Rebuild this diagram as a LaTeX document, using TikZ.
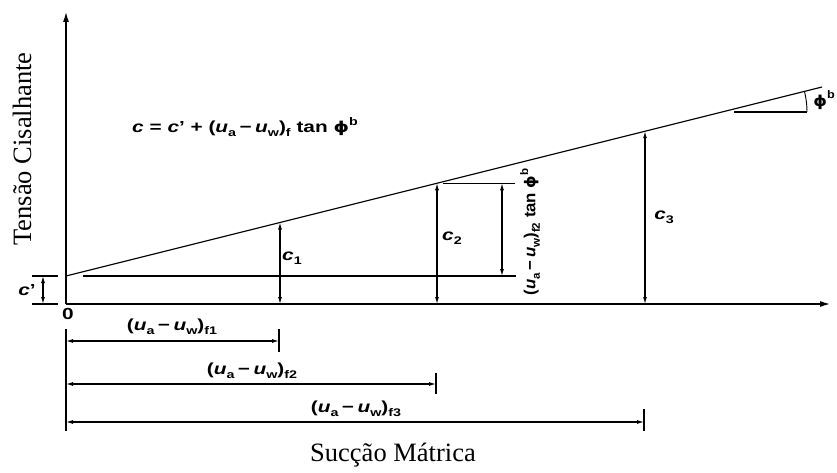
\documentclass[tikz,border=0pt]{standalone}
\usepackage{fontspec}
\setmainfont{Liberation Serif}
\setsansfont{Liberation Sans}
\newfontfamily\djv{DejaVu Sans}
\usepackage{graphicx}
\usetikzlibrary{arrows.meta}
\newcommand\lsub[1]{\raisebox{-0.28em}{\fontsize{11}{12}\selectfont #1}}
\newcommand\lsup[1]{\raisebox{0.45em}{\fontsize{11}{12}\selectfont #1}}
\newcommand\slbl[2][1.3]{\scalebox{#1}[1]{\fontsize{16}{19}\selectfont\sffamily\bfseries #2}}
\newcommand\uaw{(\textit{u}\lsub{a}\,−\,\textit{u}\lsub{w})}
\newcommand\phib{{\djv\bfseries\fontsize{15}{18}\selectfont ϕ}\lsup{b}}
\begin{document}
\begin{tikzpicture}[x=1pt,y=-1pt,line width=1.1pt,
  axisline/.style={line width=1.2pt,-{Latex[length=10pt,width=6pt]}},
  dimline/.style={line width=1.1pt,{Latex[length=7pt,width=4pt]}-{Latex[length=7pt,width=4pt]}},
  plain/.style={line width=1.1pt},
  lab/.style={inner sep=0pt},
  serif/.style={inner sep=0pt,font=\fontsize{26.5}{30}\selectfont\rmfamily}]
\useasboundingbox (0,0) rectangle (837,473);
% key points
\coordinate (O) at (66,304);
\coordinate (Ytop) at (66,12);
\coordinate (Xend) at (830,304);
\coordinate (E0) at (66,276);
\coordinate (E1) at (822,87);
\coordinate (H0) at (83,276);
\coordinate (H1) at (516,276);
\coordinate (T1) at (280,222.5);
\coordinate (B1) at (280,304);
\coordinate (T2) at (437,183.25);
\coordinate (B2) at (437,304);
\coordinate (T3) at (645,131.25);
\coordinate (B3) at (645,304);
\coordinate (R0) at (443,183.25);
\coordinate (R1) at (515,183.25);
\coordinate (S1) at (502,183.25);
\coordinate (S2) at (502,276);
\coordinate (K1a) at (32,276);
\coordinate (K1b) at (58,276);
\coordinate (K2a) at (32,304);
\coordinate (K2b) at (58,304);
\coordinate (Ca) at (43,276);
\coordinate (Cb) at (43,304);
\coordinate (P0) at (734,112);
\coordinate (P1) at (807,112);
% axes
\draw[axisline] (O) -- (Ytop);
\draw[axisline] (O) -- (Xend);
% envelope and reference lines
\draw[plain] (E0) -- (E1);
\draw[plain] (H0) -- (H1);
\draw[plain] (K1a) -- (K1b);
\draw[plain] (K2a) -- (K2b);
\draw[dimline] (Ca) -- (Cb);
\draw[dimline] (T1) -- (B1);
\draw[dimline] (T2) -- (B2);
\draw[dimline] (T3) -- (B3);
\draw[plain] (R0) -- (R1);
\draw[dimline] (S1) -- (S2);
% angle
\draw[plain] (P0) -- (P1);
\draw[line width=0.9pt] (P1) arc (0:-14:85);
% labels
\node[lab] (lcp) at (27,290) {\slbl{\textit{c}'}};
\node[lab] (l0) at (68,314) {\slbl{0}};
\node[lab] (lc1) at (292,258) {\slbl{\textit{c}\lsub{1}}};
\node[lab] (lc2) at (452,238) {\slbl{\textit{c}\lsub{2}}};
\node[lab] (lc3) at (664,217) {\slbl{\textit{c}\lsub{3}}};
\node[lab] (lphi) at (824,100) {\slbl[1.15]{\phib}};
\node[lab] (leq) at (245,127) {\slbl{\textit{c} = \textit{c}' + \uaw\lsub{f} tan \phib}};
\node[lab,rotate=90] (lrot) at (530,232) {\slbl[1.05]{\uaw\lsub{f2} tan \phib}};
% bottom dimensions
\coordinate (V0) at (66,329);
\coordinate (V1) at (66,431);
\draw[plain] (V0) -- (V1);
\coordinate (A1) at (66,341);
\coordinate (A1e) at (279,341);
\coordinate (A2) at (66,384);
\coordinate (A2e) at (436,384);
\coordinate (A3) at (66,422);
\coordinate (A3e) at (644,422);
\draw[dimline] (A1) -- (A1e);
\draw[dimline] (A2) -- (A2e);
\draw[dimline] (A3) -- (A3e);
\draw[plain] (279,329) -- (279,352);
\draw[plain] (436,373) -- (436,394);
\draw[plain] (644,409) -- (644,431);
\node[lab] (lf1) at (172,327) {\slbl{\uaw\lsub{f1}}};
\node[lab] (lf2) at (252,371) {\slbl{\uaw\lsub{f2}}};
\node[lab] (lf3) at (356,409) {\slbl{\uaw\lsub{f3}}};
% axis titles
\node[serif] (xt) at (393,455) {Sucção Mátrica};
\node[serif,rotate=90] (yt) at (22,149) {Tensão Cisalhante};
\end{tikzpicture}
\end{document}
